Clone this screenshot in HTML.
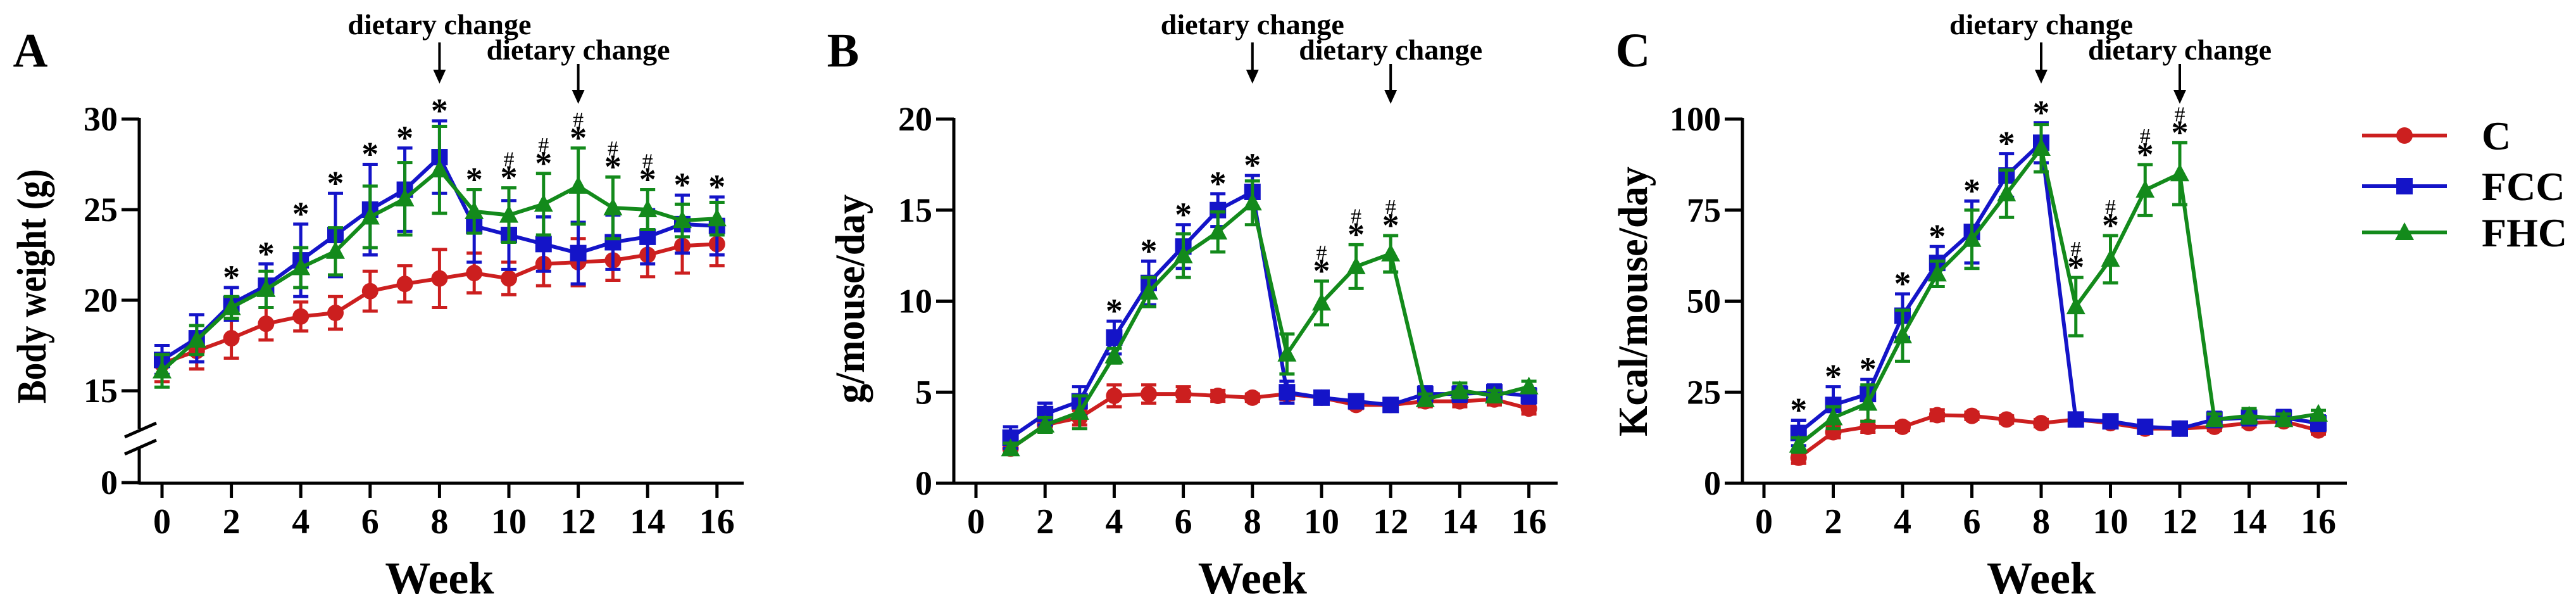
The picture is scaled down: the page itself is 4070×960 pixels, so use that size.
<!DOCTYPE html>
<html><head><meta charset="utf-8"><style>
html,body{margin:0;padding:0;background:#fff}
svg{display:block}
text{font-family:"Liberation Serif",serif;font-weight:bold;fill:#000}
</style></head><body>
<svg id="fig" width="4070" height="960" viewBox="0 0 4070 960" xmlns="http://www.w3.org/2000/svg"></svg>
<script>
const weeksA = [0,1,2,3,4,5,6,7,8,9,10,11,12,13,14,15,16];
const weeksBC = [1,2,3,4,5,6,7,8,9,10,11,12,13,14,15,16];
const xTicks = [0,2,4,6,8,10,12,14,16];

const A_C_mean   = [16.5,17.2,17.9,18.7,19.1,19.3,20.5,20.9,21.2,21.5,21.2,22.0,22.1,22.2,22.5,23.0,23.1];
const A_C_err    = [1.0,1.0,1.1,0.9,0.8,0.9,1.1,1.0,1.6,1.1,0.9,1.2,1.3,1.1,1.2,1.5,1.2];
const A_FCC_mean = [16.7,17.9,19.8,20.8,22.2,23.6,25.0,26.1,27.9,24.1,23.6,23.1,22.6,23.2,23.5,24.2,24.1];
const A_FCC_err  = [0.8,1.3,0.9,1.2,2.0,2.3,2.5,2.3,2.0,2.0,1.9,1.5,1.7,1.5,1.5,1.6,1.6];
const A_FHC_mean = [16.1,17.8,19.6,20.6,21.8,22.7,24.6,25.6,27.2,24.9,24.7,25.3,26.3,25.1,25.0,24.4,24.5];
const A_FHC_err  = [0.9,0.8,0.6,1.0,1.1,1.3,1.7,2.0,2.4,1.2,1.5,1.7,2.1,1.7,1.1,0.9,0.9];
const A_yTicks = [15,20,25,30];
const A_starWeeks = [2,3,4,5,6,7,8,9,10,11,12,13,14,15,16];
const A_hashWeeks = [10,11,12,13,14];

const B_C_mean   = [1.9,3.2,3.6,4.8,4.9,4.9,4.8,4.7,4.9,4.7,4.3,4.3,4.5,4.5,4.6,4.1];
const B_C_err    = [0.3,0.4,0.4,0.6,0.5,0.4,0.3,0.2,0.3,0.3,0.2,0.2,0.3,0.3,0.3,0.3];
const B_FCC_mean = [2.5,3.8,4.5,8.0,11.0,13.0,15.0,16.0,5.0,4.7,4.5,4.3,4.9,4.9,5.0,4.8];
const B_FCC_err  = [0.6,0.6,0.8,0.9,1.2,1.2,0.9,0.9,0.6,0.3,0.3,0.3,0.4,0.4,0.4,0.4];
const B_FHC_mean = [1.9,3.2,3.9,7.0,10.5,12.5,13.8,15.4,7.1,9.9,11.9,12.6,4.6,5.1,4.8,5.3];
const B_FHC_err  = [0.3,0.4,0.9,0.4,0.8,1.2,1.1,1.2,1.1,1.2,1.2,1.0,0.3,0.4,0.3,0.3];
const B_yTicks = [0,5,10,15,20];
const B_starWeeks = [4,5,6,7,8,10,11,12];
const B_hashWeeks = [10,11,12];

const C_C_mean   = [7,14,15.5,15.5,18.7,18.5,17.5,16.5,17.5,16.5,15,15,15.5,16.5,17,14.5];
const C_C_err    = [1.5,1.5,1.5,1,1.5,1,1,1,1,1,1,1,1,1,1,1];
const C_FCC_mean = [13.8,21.5,24.5,46,60.5,69,84.5,93.5,17.5,17,15.5,15,17.5,18,18,16.5];
const C_FCC_err  = [3.5,5,4,6,4.5,8.5,6,5.5,1.5,1.5,1.5,1.5,2,2,2,2];
const C_FHC_mean = [10.5,18,22,40.5,57.5,67,79.5,92,48.5,61.5,80.5,85,17.5,18.5,17.5,19];
const C_FHC_err  = [2,3,5,7,3.5,8,6.5,6.5,8,6.5,7,8.5,1.5,2,1.5,1];
const C_yTicks = [0,25,50,75,100];
const C_starWeeks = [1,2,3,4,5,6,7,8,9,10,11,12];
const C_hashWeeks = [9,10,11,12];

const legendLabels = ["C","FCC","FHC"];
const COLORS = {C:"#cc1f1f",FCC:"#1414c8",FHC:"#138a1b"};
const NS = "http://www.w3.org/2000/svg";
const svg = document.getElementById('fig');

function mk(tag, attrs, parent){
  const e = document.createElementNS(NS, tag);
  for (const k in attrs) e.setAttribute(k, attrs[k]);
  (parent||svg).appendChild(e);
  return e;
}

function marker(g, type, cx, cy, color){
  let m;
  if (type==="C") m = mk('circle',{cx:cx,cy:cy,r:13,fill:color},g);
  else if (type==="FCC") m = mk('rect',{x:cx-13,y:cy-13,width:26,height:26,fill:color},g);
  else m = mk('polygon',{points:`${cx},${cy-16} ${cx+15},${cy+12} ${cx-15},${cy+12}`,fill:color},g);
  return m;
}

function panel(cfg){
  const g = mk('g',{});
  
  
  const x = w => cfg.x0 + w*cfg.k;
  const y = cfg.y;
  // axes
  const ax = mk('g',{},g);
  
  
  if (cfg.broken){
    mk('line',{x1:cfg.ax,y1:186,x2:cfg.ax,y2:677,stroke:'#000','stroke-width':5},ax);
    mk('line',{x1:cfg.ax,y1:706,x2:cfg.ax,y2:765,stroke:'#000','stroke-width':5},ax);
    mk('line',{x1:197,y1:690,x2:247,y2:668,stroke:'#000','stroke-width':5},ax);
    mk('line',{x1:197,y1:717,x2:247,y2:695,stroke:'#000','stroke-width':5},ax);
  } else {
    mk('line',{x1:cfg.ax,y1:186,x2:cfg.ax,y2:765,stroke:'#000','stroke-width':5},ax);
  }
  mk('line',{x1:cfg.ax,y1:763,x2:cfg.axEnd,y2:763,stroke:'#000','stroke-width':5},ax);
  cfg.yTicks.forEach(t=>{
    const yy = y(t);
    mk('line',{x1:cfg.ax-28,y1:yy,x2:cfg.ax,y2:yy,stroke:'#000','stroke-width':5},ax);
    const tl = mk('text',{x:cfg.ax-34,y:yy+18,'text-anchor':'end','font-size':54},ax);
    tl.textContent = t;
    
    
  });
  xTicks.forEach(t=>{
    const xx = x(t);
    mk('line',{x1:xx,y1:763,x2:xx,y2:786,stroke:'#000','stroke-width':5},ax);
    const tl = mk('text',{x:xx,y:842,'text-anchor':'middle','font-size':56},ax);
    tl.textContent = t;
    
    
  });
  const mid = (cfg.ax+cfg.axEnd)/2;
  const xt = mk('text',{x:x(8),y:937,'text-anchor':'middle','font-size':72},g);
  xt.textContent = 'Week';
  
  
  const yt = mk('text',{x:0,y:0,'text-anchor':'middle','font-size':66,textLength:cfg.ytLen,lengthAdjust:'spacingAndGlyphs',transform:`translate(${cfg.ytX},${cfg.ytY}) rotate(-90)`},g);
  yt.textContent = cfg.ytitle;
  
  
  const pl = mk('text',{x:cfg.lblX,y:105,'text-anchor':'middle','font-size':76},g);
  pl.textContent = cfg.letter;
  
  
  // dietary change annotations
  [[8,40,67,132],[12,80,101,164]].forEach(([w,ty,a1,a2])=>{
    const ag = mk('g',{},g);
    
    
    const t = mk('text',{x:x(w),y:ty+14,'text-anchor':'middle','font-size':46,textLength:290,lengthAdjust:'spacingAndGlyphs'},ag);
    t.textContent = 'dietary change';
    mk('line',{x1:x(w),y1:a1,x2:x(w),y2:a2-18,stroke:'#000','stroke-width':4},ag);
    mk('polygon',{points:`${x(w)-10},${a2-22} ${x(w)+10},${a2-22} ${x(w)},${a2}`,fill:'#000'},ag);
  });
  // series
  ["C","FCC","FHC"].forEach(s=>{
    const mean = cfg.data[s][0], err = cfg.data[s][1], col = COLORS[s];
    const sg = mk('g',{},g);
    
    
    cfg.weeks.forEach((w,i)=>{
      const xx = x(w), top=y(mean[i]+err[i]), bot=y(mean[i]-err[i]);
      mk('line',{x1:xx,y1:top,x2:xx,y2:bot,stroke:col,'stroke-width':5},sg);
      mk('line',{x1:xx-12,y1:top,x2:xx+12,y2:top,stroke:col,'stroke-width':5},sg);
      mk('line',{x1:xx-12,y1:bot,x2:xx+12,y2:bot,stroke:col,'stroke-width':5},sg);
    });
    const pts = cfg.weeks.map((w,i)=>`${x(w)},${y(mean[i])}`).join(' ');
    const ln = mk('polyline',{points:pts,fill:'none',stroke:col,'stroke-width':6,'stroke-linejoin':'round'},sg);
    
    
    cfg.weeks.forEach((w,i)=>{
      const m = marker(sg, s, x(w), y(mean[i]), col);
      
      
    });
  });
  // significance marks
  const topAt = w => {
    const i = cfg.weeks.indexOf(w);
    return Math.min(...["C","FCC","FHC"].map(s=>y(cfg.data[s][0][i]+cfg.data[s][1][i])));
  };
  cfg.stars.forEach(w=>{
    const st = mk('text',{x:x(w),y:topAt(w)+2,'text-anchor':'middle','font-size':54},g);
    st.textContent = '*';
    
    
  });
  cfg.hashes.forEach(w=>{
    const h = mk('text',{x:x(w),y:topAt(w)-34,'text-anchor':'middle','font-size':34,'font-weight':'normal'},g);
    h.setAttribute('style','font-weight:normal');
    h.textContent = '#';
    
    
  });
}

panel({name:'panel-a-body-weight',letter:'A',lblX:48,x0:256,k:54.8,ax:220,axEnd:1175,
  y:v=> v>=15 ? 617-(v-15)*28.6 : 762,
  yTicks:A_yTicks, weeks:weeksA, broken:true,
  ytitle:'Body weight (g)',ytX:72,ytY:452,ytLen:370,
  data:{C:[A_C_mean,A_C_err],FCC:[A_FCC_mean,A_FCC_err],FHC:[A_FHC_mean,A_FHC_err]},
  stars:A_starWeeks,hashes:A_hashWeeks});
// zero tick for broken axis A
(function(){
  const t = mk('line',{x1:192,y1:762,x2:220,y2:762,stroke:'#000','stroke-width':5});
  const tl = mk('text',{x:186,y:780,'text-anchor':'end','font-size':54});
  tl.textContent = '0';
  
  
})();
panel({name:'panel-b-food-intake',letter:'B',lblX:1332,x0:1542,k:54.6,ax:1507,axEnd:2461,
  y:v=> 763-v*28.75, yTicks:B_yTicks, weeks:weeksBC, broken:false,
  ytitle:'g/mouse/day',ytX:1365,ytY:472,ytLen:330,
  data:{C:[B_C_mean,B_C_err],FCC:[B_FCC_mean,B_FCC_err],FHC:[B_FHC_mean,B_FHC_err]},
  stars:B_starWeeks,hashes:B_hashWeeks});
panel({name:'panel-c-energy-intake',letter:'C',lblX:2580,x0:2787,k:54.75,ax:2753,axEnd:3708,
  y:v=> 763-v*5.75, yTicks:C_yTicks, weeks:weeksBC, broken:false,
  ytitle:'Kcal/mouse/day',ytX:2602,ytY:476,ytLen:426,
  data:{C:[C_C_mean,C_C_err],FCC:[C_FCC_mean,C_FCC_err],FHC:[C_FHC_mean,C_FHC_err]},
  stars:C_starWeeks,hashes:C_hashWeeks});

// legend
const lg = mk('g',{});


const legendY = [214,294,367];
legendLabels.forEach((s,i)=>{
  const e = mk('g',{},lg);
  
  
  mk('line',{x1:3732,y1:legendY[i],x2:3866,y2:legendY[i],stroke:COLORS[s],'stroke-width':6},e);
  marker(e, s, 3799, legendY[i], COLORS[s]);
  const t = mk('text',{x:3921,y:legendY[i]+22,'font-size':64},e);
  t.textContent = s;
});
</script>
</body></html>
